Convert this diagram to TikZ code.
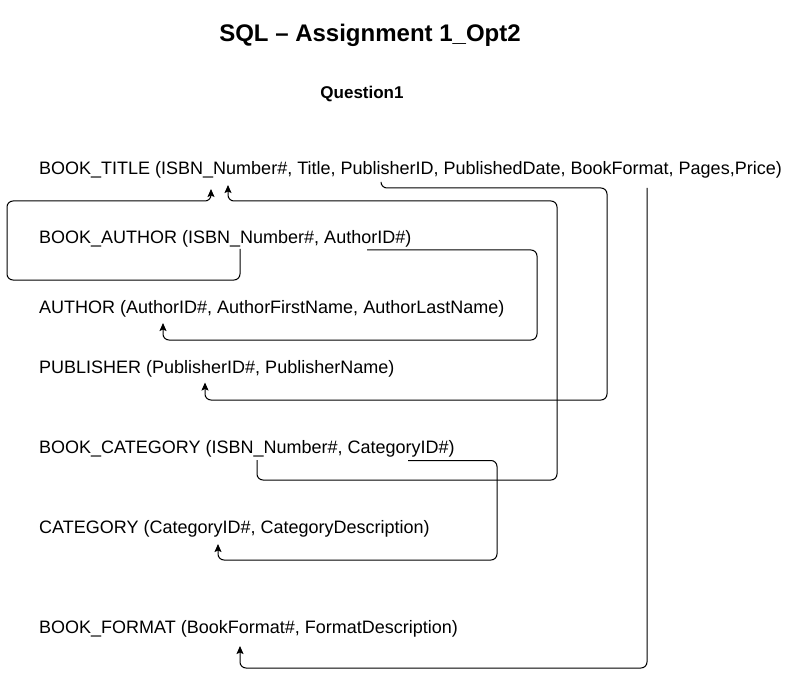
\documentclass[tikz,border=0pt]{standalone}
\usepackage{fontspec}
\setmainfont{Liberation Sans}
\usetikzlibrary{arrows.meta}
\usetikzlibrary{positioning}
\tikzset{heading/.style = {anchor=base, inner sep=0pt, font=\fontsize{24}{28}\selectfont\bfseries}}
\tikzset{question/.style = {anchor=base, inner sep=0pt, font=\fontsize{17}{20}\selectfont\bfseries}}
\tikzset{relation/.style = {anchor=base west, inner sep=0pt, font=\fontsize{18}{21}\selectfont}}
\tikzset{fk/.style = {draw, line width=1pt, rounded corners=6pt,
                      -{Stealth[length=8pt, width=7pt, inset=1.5pt]}}}

\begin{document}
\begin{tikzpicture}[x=1pt, y=-1pt]
    \useasboundingbox (0, 0) rectangle (798, 679);

    \node [heading] (title) at (370, 41.6) {SQL – Assignment 1\_Opt2};
    \node [question] (q1) at (362, 99) {Question1};

    \node [relation] (booktitle) at (39, 174.5) {BOOK\_TITLE (ISBN\_Number\#, Title, PublisherID, PublishedDate, BookFormat, Pages,Price)};
    \node [relation] (bookauthor) at (39, 243.5) {BOOK\_AUTHOR (ISBN\_Number\#, AuthorID\#)};
    \node [relation] (author) at (39, 313.5) {AUTHOR (AuthorID\#, AuthorFirstName, AuthorLastName)};
    \node [relation] (publisher) at (39, 373.5) {PUBLISHER (PublisherID\#, PublisherName)};
    \node [relation] (bookcategory) at (39, 453.5) {BOOK\_CATEGORY (ISBN\_Number\#, CategoryID\#)};
    \node [relation] (category) at (39, 533.5) {CATEGORY (CategoryID\#, CategoryDescription)};
    \node [relation] (bookformat) at (39, 633.5) {BOOK\_FORMAT (BookFormat\#, FormatDescription)};

    % key ends under the field names
    \coordinate [below right=14.5pt and 172pt of booktitle.base west] (bt-isbn-l);
    \coordinate [below right=10.5pt and 189pt of booktitle.base west] (bt-isbn-r);
    \coordinate [below right=8.5pt and 342pt of booktitle.base west] (bt-pub);
    \coordinate [below right=13.5pt and 608pt of booktitle.base west] (bt-fmt);
    \coordinate [below right=5.5pt and 201pt of bookauthor.base west] (ba-isbn);
    \coordinate [below right=6.5pt and 328pt of bookauthor.base west] (ba-auth);
    \coordinate [below right=9.5pt and 124pt of author.base west] (au-id);
    \coordinate [below right=9pt and 166pt of publisher.base west] (pu-id);
    \coordinate [below right=6.5pt and 218pt of bookcategory.base west] (bc-isbn);
    \coordinate [below right=7pt and 369pt of bookcategory.base west] (bc-cat);
    \coordinate [below right=10.5pt and 179pt of category.base west] (ca-id);
    \coordinate [below right=12.5pt and 201pt of bookformat.base west] (bf-fmt);

    \draw [fk] (ba-isbn) |- (7, 280) |- ([yshift=-12pt]bt-isbn-l) -- (bt-isbn-l);
    \draw [fk] (bc-isbn) |- (557, 480) |- ([yshift=-16pt]bt-isbn-r) -- (bt-isbn-r);
    \draw [fk] (ba-auth) -| (537, 340) -| (au-id);
    \draw [fk] (bt-pub) |- (607, 188) |- ([yshift=-17.5pt]pu-id) -- (pu-id);
    \draw [fk] (bc-cat) -| (497, 560) -| (ca-id);
    \draw [fk] (bt-fmt) -- (647, 668) -| (bf-fmt);
\end{tikzpicture}
\end{document}
